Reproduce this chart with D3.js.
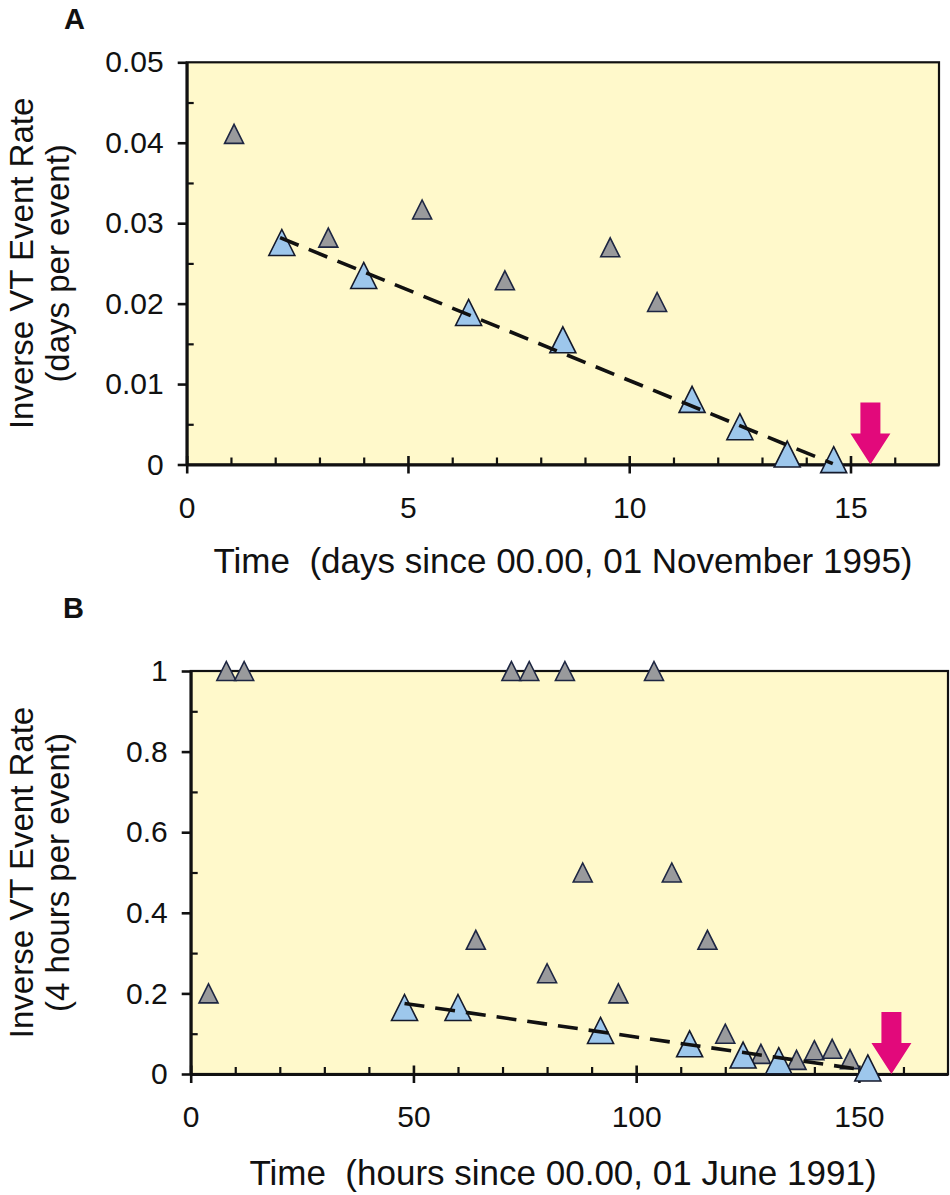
<!DOCTYPE html>
<html>
<head>
<meta charset="utf-8">
<script src="https://cdn.jsdelivr.net/npm/d3@7"></script>
<style>
  body { margin: 0; background: #fff; }
  svg { display: block; font-family: "Liberation Sans", Arial, Helvetica, sans-serif; }
</style>
</head>
<body>
<div id="chart"></div>
<script>
// ---- data, panel A (days since 01 Nov 1995) ----
var grayAx = [1.07, 3.2, 5.32, 7.19, 9.57, 10.63];
var grayAy = [0.0411, 0.0282, 0.0317, 0.0229, 0.0270, 0.0202];
var blueAx = [2.15, 4.0, 6.37, 8.5, 11.42, 12.5, 13.57, 14.62];
var blueAy = [0.0276, 0.0235, 0.0189, 0.0155, 0.0081, 0.0047, 0.0013, 0.0006];
var fitAx = [2.11, 14.6];
var fitAy = [0.0282, 0.0001];
var arrowAx = [15.45];
var xTicksA = [0, 5, 10, 15];
var yTicksA = [0, 0.01, 0.02, 0.03, 0.04, 0.05];

// ---- data, panel B (hours since 01 June 1991) ----
var grayBx = [4, 8, 12, 64, 72, 76, 80, 84, 88, 96, 104, 108, 116, 120, 128, 136, 140, 144, 148];
var grayBy = [0.2, 1, 1, 0.333, 1, 1, 0.25, 1, 0.5, 0.2, 1, 0.5, 0.333, 0.1, 0.05, 0.035, 0.059, 0.0625, 0.037];
var blueBx = [48, 60, 92, 112, 124, 132, 152];
var blueBy = [0.165, 0.165, 0.108, 0.075, 0.047, 0.033, 0.015];
var fitBx = [48, 150.5];
var fitBy = [0.175, 0.011];
var arrowBx = [157.3];
var xTicksB = [0, 50, 100, 150];
var yTicksB = [0, 0.2, 0.4, 0.6, 0.8, 1];

var WIDTH = 950, HEIGHT = 1195;
var svg = d3.select("#chart").append("svg")
    .attr("width", WIDTH)
    .attr("height", HEIGHT);

function zip(xs, ys) {
    return xs.map(function(x, i) { return { x: x, y: ys[i] }; });
}

// triangle marker, apex up, centred on the point
function tri(w) {
    var h = w;
    return "M0," + (-h / 2) + "L" + (w / 2) + "," + (h / 2) + "L" + (-w / 2) + "," + (h / 2) + "Z";
}

function drawPanel(p) {
    var g = svg.append("g")
        .attr("transform", "translate(" + p.left + "," + p.top + ")");
    var w = p.right - p.left, h = p.bottom - p.top;

    var x = d3.scaleLinear().domain(p.xDomain).range([0, w]);
    var y = d3.scaleLinear().domain(p.yDomain).range([h, 0]);

    // plot area
    g.append("rect")
        .attr("width", w).attr("height", h)
        .attr("fill", "#fff9cb")
        .attr("stroke", "#111").attr("stroke-width", 2.2);

    // minor ticks (inside)
    g.append("g")
        .attr("transform", "translate(0," + h + ")")
        .call(d3.axisTop(x).tickValues(p.xMinor).tickSize(7).tickFormat(""))
        .call(function(s) { s.select(".domain").remove(); })
        .selectAll("line").attr("stroke", "#111").attr("stroke-width", 2.2);
    g.append("g")
        .call(d3.axisRight(y).tickValues(p.yMinor).tickSize(7).tickFormat(""))
        .call(function(s) { s.select(".domain").remove(); })
        .selectAll("line").attr("stroke", "#111").attr("stroke-width", 2.2);

    // major axes
    var xa = g.append("g")
        .attr("class", "axis x-axis")
        .attr("transform", "translate(0," + h + ")")
        .call(d3.axisBottom(x).tickValues(p.xTicks).tickSizeInner(9).tickSizeOuter(0)
            .tickPadding(23).tickFormat(d3.format("d")));
    xa.selectAll(".tick line").attr("y1", -8.5);
    var ya = g.append("g")
        .attr("class", "axis y-axis")
        .call(d3.axisLeft(y).tickValues(p.yTicks).tickSizeInner(9).tickSizeOuter(0)
            .tickPadding(14).tickFormat(d3.format(p.yFmt)));

    [xa, ya].forEach(function(a) {
        a.select(".domain").attr("stroke", "#111").attr("stroke-width", 3);
        a.selectAll(".tick line").attr("stroke", "#111").attr("stroke-width", 2.6);
        a.selectAll(".tick text")
            .attr("fill", "#111")
            .style("font-size", "30px");
    });

    // gray triangles
    g.selectAll(".gray")
        .data(zip(p.grayX, p.grayY))
        .enter().append("path")
        .attr("class", "gray")
        .attr("d", tri(19))
        .attr("transform", function(d) { return "translate(" + x(d.x) + "," + y(d.y) + ")"; })
        .attr("fill", "#999a9c")
        .attr("stroke", "#1d2642")
        .attr("stroke-width", 1.6);

    // blue triangles
    g.selectAll(".blue")
        .data(zip(p.blueX, p.blueY))
        .enter().append("path")
        .attr("class", "blue")
        .attr("d", tri(26))
        .attr("transform", function(d) { return "translate(" + x(d.x) + "," + y(d.y) + ")"; })
        .attr("fill", "#9dc7ec")
        .attr("stroke", "#141a2c")
        .attr("stroke-width", 1.6);

    // dashed fit
    var line = d3.line()
        .x(function(d) { return x(d.x); })
        .y(function(d) { return y(d.y); });
    g.append("path")
        .datum(zip(p.fitX, p.fitY))
        .attr("d", line)
        .attr("fill", "none")
        .attr("stroke", "#111")
        .attr("stroke-width", 3.6)
        .attr("stroke-dasharray", "20,11");

    // magenta arrow pointing down onto the time axis
    g.selectAll(".arrow")
        .data(p.arrowX)
        .enter().append("path")
        .attr("class", "arrow")
        .attr("transform", function(d) { return "translate(" + x(d) + "," + y(0) + ")"; })
        .attr("d", "M-10,-62L10,-62L10,-31L20,-31L0,0L-20,-31L-10,-31Z")
        .attr("fill", "#e2097b");

    // axis titles
    g.append("text")
        .attr("x", p.xTitleX - p.left)
        .attr("y", p.xTitleY - p.top)
        .attr("text-anchor", "middle")
        .style("font-size", "35px")
        .style("white-space", "pre")
        .attr("xml:space", "preserve")
        .attr("fill", "#111")
        .text(p.xTitle);

    p.yTitle.forEach(function(t, i) {
        g.append("text")
            .attr("transform", "translate(" + ([33, 69][i] - p.left) + "," + (h / 2) + ") rotate(-90)")
            .attr("text-anchor", "middle")
            .style("font-size", "33px")
            .attr("fill", "#111")
            .text(t);
    });

    svg.append("text")
        .attr("x", p.letterX).attr("y", p.letterY)
        .style("font-size", "29px")
        .style("font-weight", "bold")
        .attr("fill", "#111")
        .text(p.letter);
}

drawPanel({
    left: 186.7, top: 62.3, right: 939, bottom: 464.5,
    xDomain: [0, 17], yDomain: [0, 0.05],
    xTicks: xTicksA, yTicks: yTicksA,
    xMinor: d3.range(1, 17).filter(function(d) { return d % 5 !== 0; }),
    yMinor: d3.range(0.005, 0.05, 0.01),
    yFmt: ".2~f",
    grayX: grayAx, grayY: grayAy, blueX: blueAx, blueY: blueAy,
    fitX: fitAx, fitY: fitAy, arrowX: arrowAx,
    xTitle: "Time  (days since 00.00, 01 November 1995)", xTitleX: 563, xTitleY: 573,
    yTitle: ["Inverse VT Event Rate", "(days per event)"],
    letter: "A", letterX: 64, letterY: 29
});

drawPanel({
    left: 190.7, top: 671, right: 948, bottom: 1074,
    xDomain: [0, 170], yDomain: [0, 1],
    xTicks: xTicksB, yTicks: yTicksB,
    xMinor: d3.range(10, 170, 10).filter(function(d) { return d % 50 !== 0; }),
    yMinor: d3.range(0.1, 1, 0.2),
    yFmt: ".1~f",
    grayX: grayBx, grayY: grayBy, blueX: blueBx, blueY: blueBy,
    fitX: fitBx, fitY: fitBy, arrowX: arrowBx,
    xTitle: "Time  (hours since 00.00, 01 June 1991)", xTitleX: 563, xTitleY: 1185,
    yTitle: ["Inverse VT Event Rate", "(4 hours per event)"],
    letter: "B", letterX: 63, letterY: 618
});
</script>
</body>
</html>
